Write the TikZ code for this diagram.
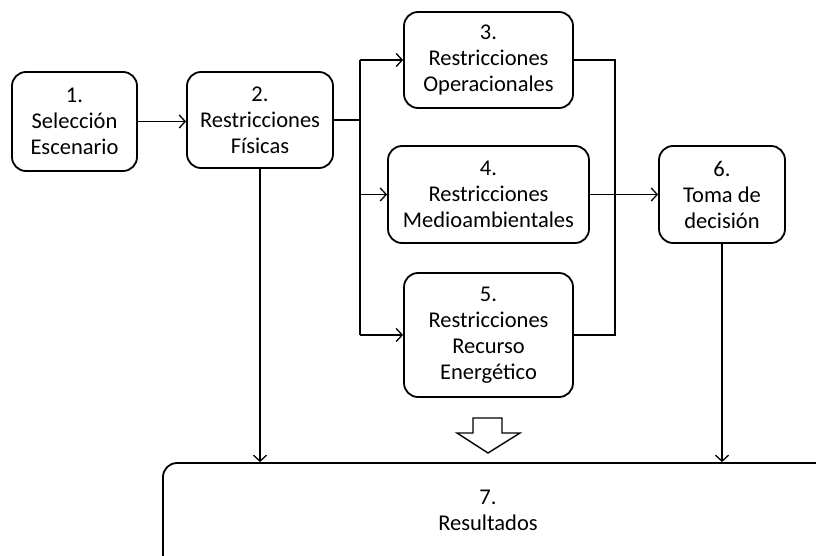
\documentclass[tikz,border=0pt]{standalone}
\usepackage{fontspec}
\setmainfont{Carlito}
\usetikzlibrary{arrows.meta}
\begin{document}
\begin{tikzpicture}[x=1pt,y=-1pt,
  box/.style={draw,line width=1.8pt,rounded corners=14pt,align=center,inner sep=0pt,font=\fontsize{22.5}{26}\selectfont},
  lbl/.style={align=center,inner sep=0pt,font=\fontsize{22.5}{26}\selectfont},
  conn/.style={line width=1.3pt},
  arr/.style={conn,-{Straight Barb[length=6pt,width=13pt,line width=1.3pt]}}]
\useasboundingbox (0,0) rectangle (816,556);
\node[box,minimum width=125pt,minimum height=99pt] (b1) at (74.5,121.5) {1.\\Selección\\Escenario};
\node[box,minimum width=146pt,minimum height=96pt] (b2) at (260,120) {2.\\Restricciones\\Físicas};
\node[box,minimum width=169pt,minimum height=96pt] (b3) at (488.5,60) {3.\\Restricciones\\Operacionales};
\node[box,minimum width=201pt,minimum height=97pt] (b4) at (488.5,194.5) {4.\\Restricciones\\Medioambientales};
\node[box,minimum width=169pt,minimum height=124pt] (b5) at (488.5,335) {5.\\Restricciones\\Recurso\\Energético};
\node[box,minimum width=126pt,minimum height=97pt] (b6) at (722,194.5) {6.\\Toma de\\decisión};
\node[box,minimum width=677pt,minimum height=127pt] (b7) at (501.5,526.5) {};
\node[lbl] (l7) at (488,510) {7.\\Resultados};
\coordinate (tk) at (360,120);
\coordinate (rt) at (615,120);
\draw[arr] (b1.east) -- (b1.east -| b2.west);
\draw[conn] (b2.east) -- (tk);
\draw[conn] (b3.west -| tk) -- (b5.west -| tk);
\draw[arr] (b3.west -| tk) -- (b3.west);
\draw[arr] (b4.west -| tk) -- (b4.west);
\draw[arr] (b5.west -| tk) -- (b5.west);
\draw[conn] (b3.east) -- (b3.east -| rt) -- (b5.east -| rt) -- (b5.east);
\draw[arr] (b4.east) -- (b6.west);
\draw[arr] (b2.south) -- (b2.south |- b7.north);
\draw[arr] (b6.south) -- (b6.south |- b7.north);
\draw[line width=1.4pt,fill=white] (473,418) -- (502,418) -- (502,433) -- (520,433) -- (488,453) -- (457,433) -- (473,433) -- cycle;
\end{tikzpicture}
\end{document}
